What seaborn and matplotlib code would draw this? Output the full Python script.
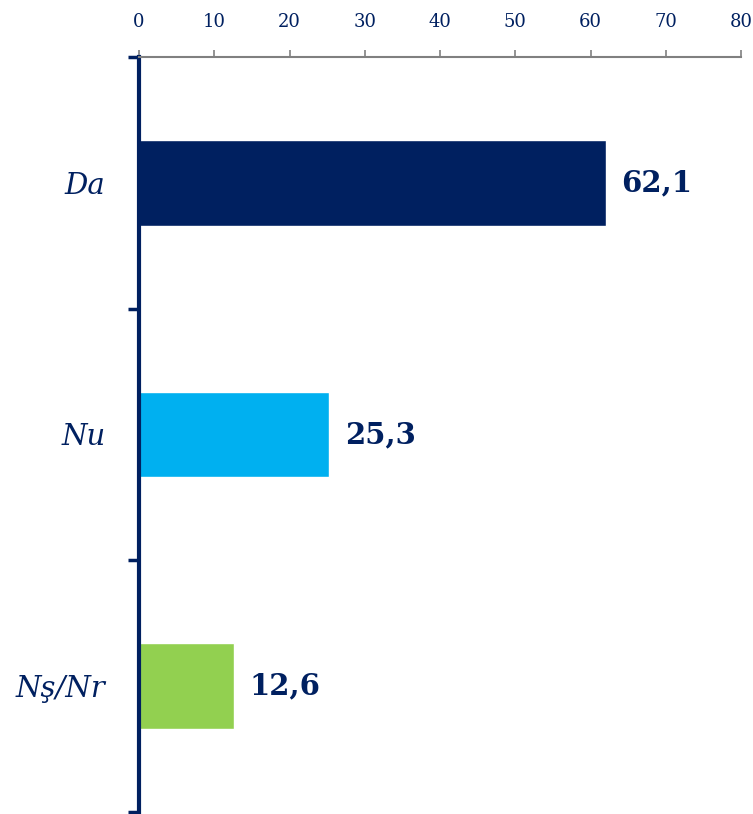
import pandas as pd
import seaborn as sns
import matplotlib.pyplot as plt

# Data
categories = ['Da', 'Nu', 'Nş/Nr']
values = [62.1, 25.3, 12.6]
labels = ['62,1', '25,3', '12,6']
colors = ['#002060', '#00B0F0', '#92D050']

navy = '#002060'

sns.set_style('white')
plt.rcParams['font.family'] = ['DejaVu Serif', 'DejaVu Sans']

df = pd.DataFrame({'cat': categories, 'val': values})

fig = plt.figure(figsize=(7.53, 8.14), dpi=100)
ax = fig.add_axes([0.1846, 0.0025, 0.7995, 0.9275])

sns.barplot(data=df, x='val', y='cat', hue='cat', palette=colors,
            orient='h', width=0.34, legend=False, ax=ax, saturation=1)

ax.set_xlim(0, 80)
ax.set_ylim(2.5, -0.5)
ax.set_xlabel('')
ax.set_ylabel('')

# x axis on top
ax.xaxis.tick_top()
ax.set_xticks(range(0, 81, 10))
ax.tick_params(axis='x', colors='#808080', length=5, width=1.2, direction='out',
               labelcolor=navy, labelsize=13, pad=14)

# category labels, ticks between categories
ax.set_yticks([0, 1, 2])
ax.set_yticklabels(categories, fontsize=21, style='italic', color=navy)
ax.tick_params(axis='y', which='major', length=0, pad=24)
ax.set_yticks([-0.5, 0.5, 1.5, 2.5], minor=True)
ax.tick_params(axis='y', which='minor', left=True, length=8, width=2.5,
               color=navy, direction='out')

for side in ['right', 'bottom']:
    ax.spines[side].set_visible(False)
ax.spines['top'].set_color('#808080')
ax.spines['top'].set_linewidth(1.5)
ax.spines['left'].set_color(navy)
ax.spines['left'].set_linewidth(3)

for i, (v, lab) in enumerate(zip(values, labels)):
    ax.annotate(lab, (v, i), xytext=(11, 0), textcoords='offset points',
                va='center', ha='left', fontsize=21, fontweight='bold', color=navy)

fig.savefig('out.png', dpi=100)
